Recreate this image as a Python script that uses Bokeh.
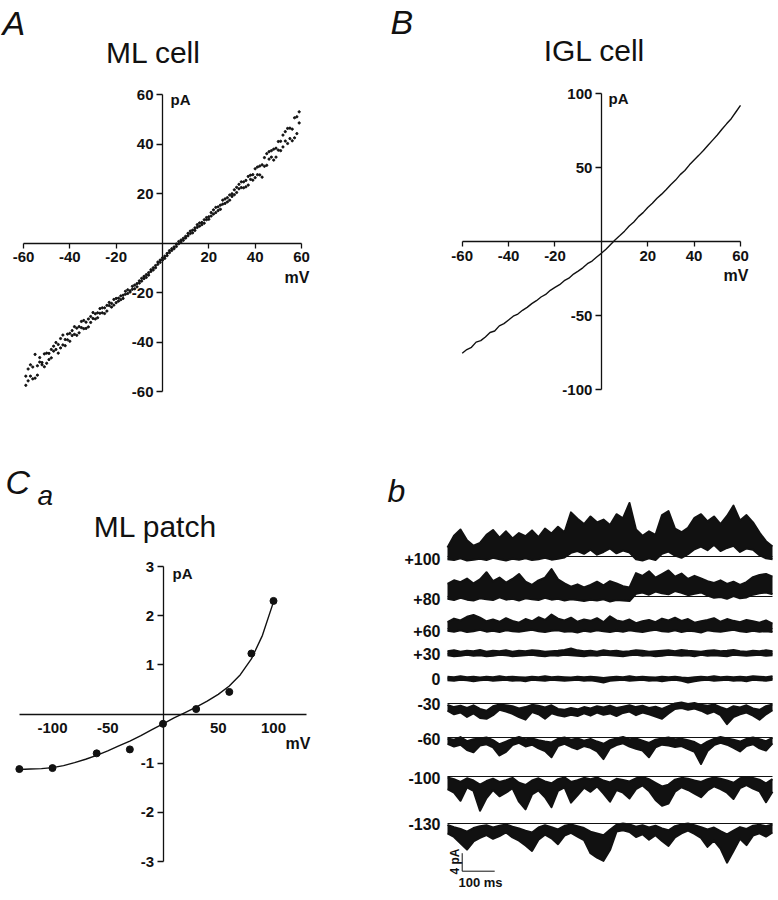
from bokeh.plotting import figure
from bokeh.models import Range1d, FixedTicker, Label, ColumnDataSource
from bokeh.layouts import row, column
from bokeh.embed import file_html
from bokeh.resources import INLINE
from bokeh.core.properties import value

# ---------------- DATA ----------------
# Panel A: ML cell, ramp I-V (two sweeps sampled each mV)
A_MV = [-59, -58, -57, -56, -55, -54, -53, -52, -51, -50,
        -49, -48, -47, -46, -45, -44, -43, -42, -41, -40,
        -39, -38, -37, -36, -35, -34, -33, -32, -31, -30,
        -29, -28, -27, -26, -25, -24, -23, -22, -21, -20,
        -19, -18, -17, -16, -15, -14, -13, -12, -11, -10,
        -9, -8, -7, -6, -5, -4, -3, -2, -1, 0,
        1, 2, 3, 4, 5, 6, 7, 8, 9, 10,
        11, 12, 13, 14, 15, 16, 17, 18, 19, 20,
        21, 22, 23, 24, 25, 26, 27, 28, 29, 30,
        31, 32, 33, 34, 35, 36, 37, 38, 39, 40,
        41, 42, 43, 44, 45, 46, 47, 48, 49, 50,
        51, 52, 53, 54, 55, 56, 57, 58, 59]
A_PA_SWEEP1 = [-57.5, -50.9, -53.8, -50.1, -54.6, -49.6, -46.3, -49.2, -50.0, -44.5,
               -44.6, -46.4, -41.7, -43.0, -44.5, -38.6, -41.2, -39.0, -36.8, -39.7,
               -35.4, -36.9, -37.3, -33.8, -31.7, -34.6, -32.0, -33.9, -29.7, -30.5,
               -30.7, -28.2, -26.5, -28.2, -28.5, -25.2, -25.3, -25.9, -22.8, -24.1,
               -22.3, -22.9, -21.1, -19.5, -20.4, -19.3, -17.5, -18.5, -16.4, -16.2,
               -15.4, -13.5, -13.9, -12.0, -10.8, -10.9, -9.1, -8.6, -6.9, -6.9,
               -5.3, -5.1, -3.1, -3.0, -2.3, -0.4, -0.3, 1.2, 1.1, 2.7,
               3.9, 3.8, 4.1, 6.1, 7.4, 6.8, 8.3, 8.0, 10.3, 10.6,
               12.3, 11.7, 14.4, 13.1, 15.3, 17.3, 16.0, 18.3, 17.3, 19.9,
               19.5, 22.5, 21.9, 24.7, 22.3, 25.3, 23.4, 27.4, 27.6, 26.4,
               30.7, 27.5, 31.6, 31.0, 36.1, 33.9, 37.3, 33.5, 38.3, 41.0,
               37.3, 43.6, 41.2, 46.3, 42.2, 46.0, 42.5, 51.0, 48.5]
A_PA_SWEEP2 = [-53.8, -55.7, -49.2, -54.9, -45.0, -53.4, -48.1, -48.3, -44.8, -48.6,
               -47.1, -43.0, -43.7, -40.2, -41.0, -42.4, -37.2, -41.5, -39.1, -36.5,
               -37.4, -33.8, -34.4, -36.3, -34.2, -31.3, -34.5, -30.7, -32.1, -28.1,
               -28.6, -30.2, -28.4, -26.2, -26.2, -27.5, -24.0, -24.4, -25.1, -22.4,
               -23.5, -21.4, -22.4, -20.7, -18.9, -19.8, -18.7, -17.0, -17.7, -15.3,
               -14.3, -14.4, -12.8, -13.0, -11.5, -10.0, -10.0, -7.7, -7.8, -6.0,
               -6.2, -4.2, -3.9, -2.3, -1.6, -1.4, 0.6, 0.4, 1.9, 2.0,
               2.9, 4.8, 5.2, 5.1, 6.3, 8.1, 7.4, 9.4, 9.4, 9.6,
               10.9, 13.4, 12.3, 14.6, 13.6, 15.7, 17.8, 16.6, 19.4, 18.8,
               21.5, 20.4, 23.7, 22.4, 24.7, 22.7, 26.9, 25.7, 25.4, 30.0,
               27.6, 31.1, 26.6, 34.5, 31.4, 36.9, 34.7, 37.9, 34.7, 37.5,
               41.1, 38.8, 45.0, 40.2, 46.4, 41.3, 50.6, 44.2, 53.0]

# Panel B: IGL cell ramp I-V
B_MV = [-60, -58, -56, -54, -52, -50, -48, -46, -44, -42,
        -40, -38, -36, -34, -32, -30, -28, -26, -24, -22,
        -20, -18, -16, -14, -12, -10, -8, -6, -4, -2,
        0, 2, 4, 6, 8, 10, 12, 14, 16, 18,
        20, 22, 24, 26, 28, 30, 32, 34, 36, 38,
        40, 42, 44, 46, 48, 50, 52, 54, 56, 58, 60]
B_PA = [-75.5, -73.0, -71.5, -68.0, -67.0, -64.5, -61.5, -60.5, -57.0, -55.5,
        -53.0, -50.5, -49.0, -46.5, -44.5, -42.0, -40.0, -37.5, -35.8, -33.0,
        -31.0, -29.2, -26.5, -24.8, -22.0, -20.0, -17.8, -15.0, -13.2, -10.5,
        -8.0, -5.2, -2.0, 1.2, 4.0, 7.0, 10.5, 13.2, 16.8, 19.5,
        23.0, 25.8, 29.2, 32.0, 35.2, 38.5, 41.5, 45.2, 48.0, 51.8,
        55.0, 58.2, 61.5, 65.0, 68.5, 72.0, 75.8, 79.5, 83.0, 87.5, 92.0]

# Panel Ca: ML patch single-channel I-V
CA_MV = [-130, -100, -60, -30, 0, 30, 60, 80, 100]
CA_PA = [-1.12, -1.10, -0.80, -0.72, -0.20, 0.10, 0.45, 1.23, 2.30]
CA_FIT_MV = [-130, -120, -110, -100, -90, -80, -70, -60, -50, -40, -30, -20, -10,
             0, 10, 20, 30, 40, 50, 60, 70, 80, 90, 100]
CA_FIT_PA = [-1.13, -1.12, -1.11, -1.09, -1.05, -0.99, -0.92, -0.84, -0.75, -0.65, -0.55, -0.44, -0.32,
             -0.20, -0.08, 0.03, 0.14, 0.26, 0.40, 0.57, 0.80, 1.12, 1.60, 2.28]

# Panel b: single-channel records (max / min of the trace in 20 ms bins, pA from closed level)
TRACE_LABELS = ["+100", "+80", "+60", "+30", "0", "-30", "-60", "-100", "-130"]
TIME_MS = [0, 20, 40, 60, 80, 100, 120, 140, 160, 180,
           200, 220, 240, 260, 280, 300, 320, 340, 360, 380,
           400, 420, 440, 460, 480, 500, 520, 540, 560, 580,
           600, 620, 640, 660, 680, 700, 720, 740, 760, 780,
           800, 820, 840, 860, 880, 900, 920, 940, 960, 980, 1000]
TRACE_UPPER = [
    [2.0, 4.6, 6.0, 3.6, 2.4, 3.0, 4.8, 5.9, 4.2, 5.6,
     4.0, 5.2, 4.5, 5.8, 4.3, 6.2, 5.1, 6.6, 5.4, 9.8,
     8.4, 7.2, 8.9, 7.6, 8.2, 7.0, 9.4, 8.5, 11.9, 6.0,
     4.6, 5.6, 4.8, 9.2, 10.1, 6.2, 5.4, 6.4, 8.6, 9.4,
     7.8, 8.9, 7.2, 9.0, 11.3, 8.0, 9.2, 7.6, 5.3, 3.4, 2.2],
    [2.8, 3.6, 3.2, 4.0, 2.9, 3.8, 5.4, 3.4, 4.2, 3.1,
     3.9, 5.0, 3.3, 2.6, 3.6, 4.2, 6.1, 3.8, 2.9, 2.2,
     2.7, 2.0, 2.6, 3.3, 2.5, 3.4, 2.9, 2.3, 2.0, 5.2,
     4.6, 5.6, 4.2, 5.0, 5.8, 4.4, 5.1, 3.9, 4.6, 4.0,
     3.4, 3.0, 3.6, 2.8, 3.3, 2.6, 3.2, 4.3, 4.8, 5.0, 4.4],
    [1.4, 2.2, 1.8, 2.6, 3.0, 2.4, 1.6, 2.0, 1.5, 2.3,
     1.7, 1.3, 2.1, 1.6, 2.5, 1.9, 3.1, 2.2, 1.8, 2.4,
     1.5, 2.0, 1.7, 2.3, 1.4, 2.7, 1.8, 1.5, 2.0, 1.2,
     1.6, 1.9, 1.4, 2.2, 1.8, 2.4, 1.7, 2.1, 1.3, 1.6,
     1.9, 2.3, 1.5, 2.1, 1.7, 1.4, 1.9, 1.6, 1.3, 1.8, 1.1],
    [0.5, 0.7, 0.4, 0.6, 0.5, 0.8, 0.4, 0.6, 0.5, 0.7,
     0.4, 0.6, 0.5, 0.7, 0.6, 0.4, 0.5, 0.6, 0.8, 1.1,
     0.7, 0.5, 0.6, 0.4, 0.7, 0.5, 0.6, 0.4, 0.5, 0.7,
     0.6, 0.4, 0.5, 0.6, 0.7, 0.5, 0.8, 0.6, 0.5, 0.4,
     0.6, 0.7, 0.5, 0.6, 0.8, 0.5, 0.4, 0.6, 0.5, 0.7, 0.5],
    [0.4, 0.3, 0.5, 0.3, 0.4, 0.2, 0.4, 0.3, 0.5, 0.3,
     0.4, 0.3, 0.2, 0.4, 0.3, 0.5, 0.3, 0.4, 0.3, 0.2,
     0.4, 0.3, 0.4, 0.3, 0.1, 0.3, 0.4, 0.3, 0.5, 0.3,
     0.4, 0.3, 0.2, 0.4, 0.3, 0.4, 0.2, 0.1, 0.3, 0.4,
     0.3, 0.5, 0.3, 0.4, 0.3, 0.4, 0.3, 0.5, 0.4, 0.3, 0.5],
    [-0.3, -0.8, -0.5, -1.0, -0.4, -1.2, -1.6, -0.6, -0.2, -0.4,
     -0.6, -1.1, -0.8, -0.3, -0.5, -0.9, -0.4, -1.2, -1.4, -1.0,
     -1.3, -0.8, -1.1, -0.6, -0.9, -0.5, -1.0, -0.7, -0.4, -0.8,
     -0.5, -1.0, -0.7, -1.2, -0.6, 0.0, 0.2, -0.1, 0.1, -0.3,
     -0.5, -0.2, -0.8, -1.3, -0.6, -0.9, -0.4, -1.1, -1.4, -0.6, -0.2],
    [-0.2, -0.5, 0.1, -0.8, -0.4, -0.2, 0.0, -0.6, -1.5, -0.9,
     -0.3, 0.1, -0.4, -0.2, -0.6, -0.9, -1.1, -0.3, 0.0, -0.5,
     -0.2, -0.7, -0.3, -0.9, -1.4, -0.6, -0.2, 0.1, -0.4, -0.2,
     -0.7, -1.2, -0.5, -0.2, 0.0, -0.4, -0.3, -0.6, -1.0, -1.8,
     -0.9, -0.3, 0.1, -0.2, -0.5, -0.9, -0.3, 0.0, -0.4, -0.8, -0.1],
    [-0.2, -0.6, -1.2, -0.4, -0.9, -1.8, -1.0, -0.5, -1.2, -0.8,
     -0.3, -1.4, -1.9, -0.9, -0.4, -1.1, -1.5, -0.6, -0.2, -1.2,
     -0.8, -0.3, -0.6, -0.2, -0.9, -1.3, -0.5, -0.8, -1.1, -0.4,
     -0.1, -0.6, -1.4, -2.2, -1.8, -0.7, -0.3, -0.5, -0.9, -1.2,
     -0.6, -0.2, -0.5, -0.9, -1.4, -0.4, -0.1, -0.3, -0.7, -1.5, -0.6],
    [-0.3, -0.8, -1.2, -1.8, -1.0, -0.6, -0.4, -0.9, -0.5, -0.2,
     -0.7, -1.1, -1.6, -2.0, -0.9, -0.4, -0.8, -1.3, -0.5, -0.2,
     -0.6, -1.0, -1.8, -2.2, -2.6, -1.4, -0.3, 0.0, -0.2, -0.7,
     -0.4, -0.9, -0.5, -1.1, -1.5, -0.6, -0.2, 0.0, -0.4, -0.8,
     -1.3, -0.9, -1.7, -2.4, -1.6, -0.8, -1.2, -0.5, -0.3, -0.6, -0.2],
]
TRACE_LOWER = [
    [-0.6, -0.8, -0.4, -0.9, -0.7, -0.5, -0.8, -0.3, -0.6, -0.9,
     -0.5, -0.7, -0.4, -0.8, -0.6, -0.3, -0.7, -0.5, -0.2, 0.8,
     1.2, 0.6, 1.5, 0.4, 1.0, 1.8, 0.7, 1.3, 0.9, -0.6,
     -0.9, -0.4, -0.8, 0.6, 1.1, 0.2, -0.3, 0.5, 1.6, 2.2,
     1.4, 2.6, 1.2, 1.9, 2.4, 1.0, 1.8, 1.5, 0.3, -0.4, -0.6],
    [-0.5, -0.8, -0.3, -0.7, -0.9, -0.4, -0.6, -0.8, -0.2, -0.7,
     -0.5, -0.9, -0.4, -0.6, -0.8, -0.3, -0.7, -0.5, -0.9, -0.6,
     -0.8, -1.0, -0.7, -0.9, -0.6, -1.1, -0.8, -0.9, -1.0, 0.6,
     0.9, 0.4, 1.1, 0.7, 0.5, 1.2, 0.8, 0.3, 0.6, 0.9,
     0.2, -0.3, -0.1, -0.5, 0.1, -0.4, -0.2, 0.4, 0.7, 0.9, 0.5],
    [-0.5, -0.7, -0.4, -0.8, -0.6, -0.3, -0.7, -0.5, -0.8, -0.4,
     -0.6, -0.7, -0.5, -0.3, -0.6, -0.8, -0.5, -0.4, -0.7, -0.6,
     -0.9, -0.5, -0.7, -0.4, -0.6, -0.8, -0.5, -0.7, -0.4, -0.6,
     -0.8, -0.5, -0.3, -0.6, -0.7, -0.4, -0.8, -0.5, -0.6, -0.9,
     -0.4, -0.6, -0.7, -0.5, -0.3, -0.6, -0.8, -0.5, -0.7, -0.6, -0.8],
    [-0.4, -0.6, -0.5, -0.3, -0.5, -0.4, -0.6, -0.5, -0.3, -0.4,
     -0.6, -0.5, -0.4, -0.3, -0.5, -0.6, -0.4, -0.5, -0.3, -0.4,
     -0.5, -0.6, -0.4, -0.5, -0.3, -0.4, -0.5, -0.6, -0.4, -0.3,
     -0.5, -0.4, -0.6, -0.5, -0.3, -0.4, -0.5, -0.4, -0.6, -0.3,
     -0.5, -0.4, -0.5, -0.6, -0.3, -0.4, -0.5, -0.4, -0.3, -0.5, -0.4],
    [-0.4, -0.5, -0.3, -0.4, -0.6, -0.4, -0.3, -0.5, -0.4, -0.3,
     -0.5, -0.4, -0.6, -0.3, -0.4, -0.5, -0.3, -0.4, -0.5, -0.4,
     -0.3, -0.5, -0.4, -0.6, -0.9, -0.5, -0.4, -0.3, -0.5, -0.4,
     -0.3, -0.5, -0.4, -0.6, -0.4, -0.3, -0.5, -0.9, -0.6, -0.4,
     -0.3, -0.5, -0.4, -0.3, -0.5, -0.4, -0.6, -0.3, -0.4, -0.5, -0.3],
    [-1.6, -2.4, -2.0, -3.0, -2.2, -3.2, -3.4, -2.6, -1.4, -1.8,
     -2.3, -3.0, -3.6, -1.9, -2.4, -3.4, -2.2, -2.6, -2.9, -2.5,
     -2.8, -2.2, -2.7, -2.0, -2.5, -2.2, -2.8, -2.1, -1.8, -2.6,
     -2.0, -2.4, -2.9, -3.4, -2.2, -1.2, -1.0, -1.4, -1.1, -1.6,
     -2.3, -1.8, -2.6, -4.6, -3.0, -2.4, -2.0, -2.7, -3.6, -2.4, -1.5],
    [-1.4, -2.0, -1.6, -2.8, -3.3, -1.8, -1.5, -2.2, -4.0, -3.2,
     -1.7, -1.2, -2.0, -1.6, -2.4, -3.0, -4.4, -1.9, -1.4, -2.1,
     -2.6, -1.9, -2.3, -3.1, -4.8, -2.4, -1.7, -1.3, -2.0, -2.5,
     -2.9, -4.4, -2.2, -1.6, -1.8, -2.1, -1.9, -2.6, -3.2, -5.9,
     -3.0, -1.7, -1.2, -1.6, -2.3, -3.1, -1.9, -1.5, -2.4, -2.9, -1.3],
    [-2.8, -3.6, -5.4, -2.4, -3.2, -7.6, -4.8, -3.0, -4.4, -3.6,
     -2.6, -5.6, -7.3, -4.0, -3.1, -4.6, -6.8, -3.2, -2.4, -5.8,
     -4.2, -2.5, -3.4, -2.2, -3.8, -5.6, -3.0, -3.6, -4.9, -2.8,
     -2.0, -3.2, -5.2, -6.5, -6.0, -3.4, -2.4, -3.0, -3.8, -4.6,
     -3.1, -2.2, -2.8, -3.6, -5.0, -2.6, -1.9, -2.7, -3.3, -5.7, -3.4],
    [-2.2, -3.0, -4.4, -5.8, -4.0, -3.2, -2.6, -3.4, -2.8, -2.0,
     -3.1, -3.8, -4.9, -6.1, -3.6, -2.5, -3.3, -4.6, -2.7, -2.1,
     -2.9, -3.7, -6.6, -7.6, -8.3, -5.9, -1.8, -1.5, -1.9, -3.0,
     -2.4, -3.6, -2.6, -3.9, -5.0, -3.1, -2.2, -1.6, -2.3, -3.2,
     -5.2, -3.8, -5.6, -8.7, -6.1, -3.4, -4.8, -2.7, -2.2, -2.9, -2.0],
]
SCALE_PA = 4
SCALE_MS = 100
SCALE_TEXT = ["4 pA", "100 ms"]

# ---------------- STYLE / LAYOUT ----------------
FONT = "Liberation Sans"
TICK_SIZE = "15px"
BLACK = "#111111"


class Frame:
    """Maps reference-image pixel positions to data values for one figure."""

    def __init__(self, left, top, w, h, xv, xp, yv, yp):
        self.left, self.top, self.w, self.h = left, top, w, h
        self.sx = (xp[1] - xp[0]) / (xv[1] - xv[0])
        self.sy = (yp[1] - yp[0]) / (yv[1] - yv[0])
        self.xv0, self.xp0 = xv[0], xp[0]
        self.yv0, self.yp0 = yv[0], yp[0]

    def x(self, ix):
        return self.xv0 + (ix - self.xp0) / self.sx

    def y(self, iy):
        return self.yv0 + (iy - self.yp0) / self.sy

    def fig(self):
        p = figure(width=self.w, height=self.h,
                   x_range=Range1d(self.x(self.left), self.x(self.left + self.w)),
                   y_range=Range1d(self.y(self.top + self.h), self.y(self.top)),
                   output_backend="svg", toolbar_location=None, min_border=0)
        p.outline_line_color = None
        p.grid.visible = False
        p.background_fill_color = "white"
        p.border_fill_color = "white"
        return p


def cross_axes(p, xb, yb, xt, yt, x_tick_out=5, x_standoff=4):
    p.xaxis.fixed_location = 0
    p.yaxis.fixed_location = 0
    p.xaxis.bounds = xb
    p.yaxis.bounds = yb
    p.xaxis.ticker = FixedTicker(ticks=xt)
    p.yaxis.ticker = FixedTicker(ticks=yt)
    p.xaxis.major_label_overrides = {t: str(t) for t in xt}
    p.yaxis.major_label_overrides = {t: str(t) for t in yt}
    p.xaxis.major_tick_out = x_tick_out
    p.xaxis.major_label_standoff = x_standoff
    p.yaxis.major_tick_out = 6
    p.yaxis.major_label_standoff = 3
    for ax in (p.xaxis, p.yaxis):
        ax.minor_tick_line_color = None
        ax.major_tick_in = 0
        ax.axis_line_width = 1.3
        ax.major_tick_line_width = 1.3
        ax.axis_line_color = BLACK
        ax.major_tick_line_color = BLACK
        ax.major_label_text_font = FONT
        ax.major_label_text_font_style = "bold"
        ax.major_label_text_font_size = TICK_SIZE
        ax.major_label_text_color = BLACK


def label(p, fr, ix, iy, text, size, align="left", style="normal", angle=0):
    p.add_layout(Label(x=fr.x(ix), y=fr.y(iy), text=text, text_align=align,
                       text_baseline="middle", text_font=FONT, text_font_size=size,
                       text_font_style=style, text_color=BLACK, angle=angle,
                       angle_units="deg"))


# ---------- Panel A ----------
fa = Frame(0, 0, 389, 424, (-60, 60), (23, 301), (60, -60), (94, 391))
pa = fa.fig()
cross_axes(pa, (-60, 60), (-60, 60), [-60, -40, -20, 20, 40, 60], [-60, -40, -20, 20, 40, 60])
pa.scatter(A_MV, A_PA_SWEEP1, size=2.2, marker="circle", color=BLACK)
pa.scatter(A_MV, A_PA_SWEEP2, size=2.2, marker="circle", color=BLACK)
label(pa, fa, 2, 22, "A", "34px", style="italic")
label(pa, fa, 153, 52, "ML cell", "30px", align="center")
label(pa, fa, 170, 99, "pA", "15px", style="bold")
label(pa, fa, 309, 277, "mV", "16px", align="right", style="bold")

# ---------- Panel B ----------
fbb = Frame(389, 0, 389, 424, (-60, 60), (461.7, 740), (100, -100), (93, 389))
pbb = fbb.fig()
cross_axes(pbb, (-60, 60), (-100, 100), [-60, -40, -20, 20, 40, 60], [-100, -50, 50, 100])
pbb.line(B_MV, B_PA, line_width=1.4, color=BLACK)
label(pbb, fbb, 390, 21, "B", "34px", style="italic")
label(pbb, fbb, 594, 50, "IGL cell", "30px", align="center")
label(pbb, fbb, 608, 98, "pA", "15px", style="bold")
label(pbb, fbb, 748, 275, "mV", "16px", align="right", style="bold")

# ---------- Panel Ca ----------
fc = Frame(0, 424, 384, 476, (-100, 100), (52, 273), (3, -3), (566, 861))
pc = fc.fig()
cross_axes(pc, (-130, 130), (-3, 3), [-100, -50, 50, 100], [-3, -2, -1, 1, 2, 3],
           x_tick_out=0, x_standoff=9)
pc.line(CA_FIT_MV, CA_FIT_PA, line_width=1.4, color=BLACK)
pc.scatter(CA_MV, CA_PA, size=7, marker="circle", color=BLACK)
label(pc, fc, 5, 481, "C", "34px", style="italic")
label(pc, fc, 37, 495, "a", "28px", style="italic")
label(pc, fc, 155, 526, "ML patch", "30px", align="center")
label(pc, fc, 172, 573, "pA", "15px", style="bold")
label(pc, fc, 310, 743, "mV", "16px", align="right", style="bold")

# ---------- Panel b ----------
BASE_PX = [556, 596, 628, 653, 678, 703, 737, 776, 823]   # closed levels (image px)
LABEL_PX = [558, 598, 630, 653, 678, 703, 738, 777, 823]
fb = Frame(384, 424, 394, 476, (0, 1000), (447, 772), (0, 4), (556, 538))
pb = fb.fig()
pb.axis.visible = False
t0, t1 = TIME_MS[0], TIME_MS[-1]
for k, lab in enumerate(TRACE_LABELS):
    off = fb.y(BASE_PX[k])
    up = [v + off for v in TRACE_UPPER[k]]
    lo = [v + off for v in TRACE_LOWER[k]]
    pb.line([t0, t1], [off, off], line_width=1, color=BLACK)
    pb.varea(x=TIME_MS, y1=lo, y2=up, fill_color=BLACK)
    pb.line(TIME_MS, up, line_width=2, color=BLACK, line_join="round")
    pb.line(TIME_MS, lo, line_width=2, color=BLACK, line_join="round")

lsrc = ColumnDataSource(dict(x=[fb.x(440)] * len(TRACE_LABELS),
                             y=[fb.y(v) for v in LABEL_PX], text=TRACE_LABELS))
pb.text(x="x", y="y", text="text", source=lsrc, text_align="right", text_baseline="middle",
        text_font=value(FONT), text_font_size="16px", text_font_style="bold",
        text_color=BLACK)

bx, by = fb.x(461.7), fb.y(870.7)
pb.line([bx, bx, bx + SCALE_MS], [by + SCALE_PA, by, by], line_width=1, color=BLACK)
label(pb, fb, 454, 861, SCALE_TEXT[0], "12px", align="center", style="bold", angle=90)
label(pb, fb, 480, 882, SCALE_TEXT[1], "13px", align="center", style="bold")
label(pb, fb, 387, 490, "b", "32px", style="italic")

layout = column(row(pa, pbb), row(pc, pb))
open("out.html", "w").write(file_html(layout, INLINE))
